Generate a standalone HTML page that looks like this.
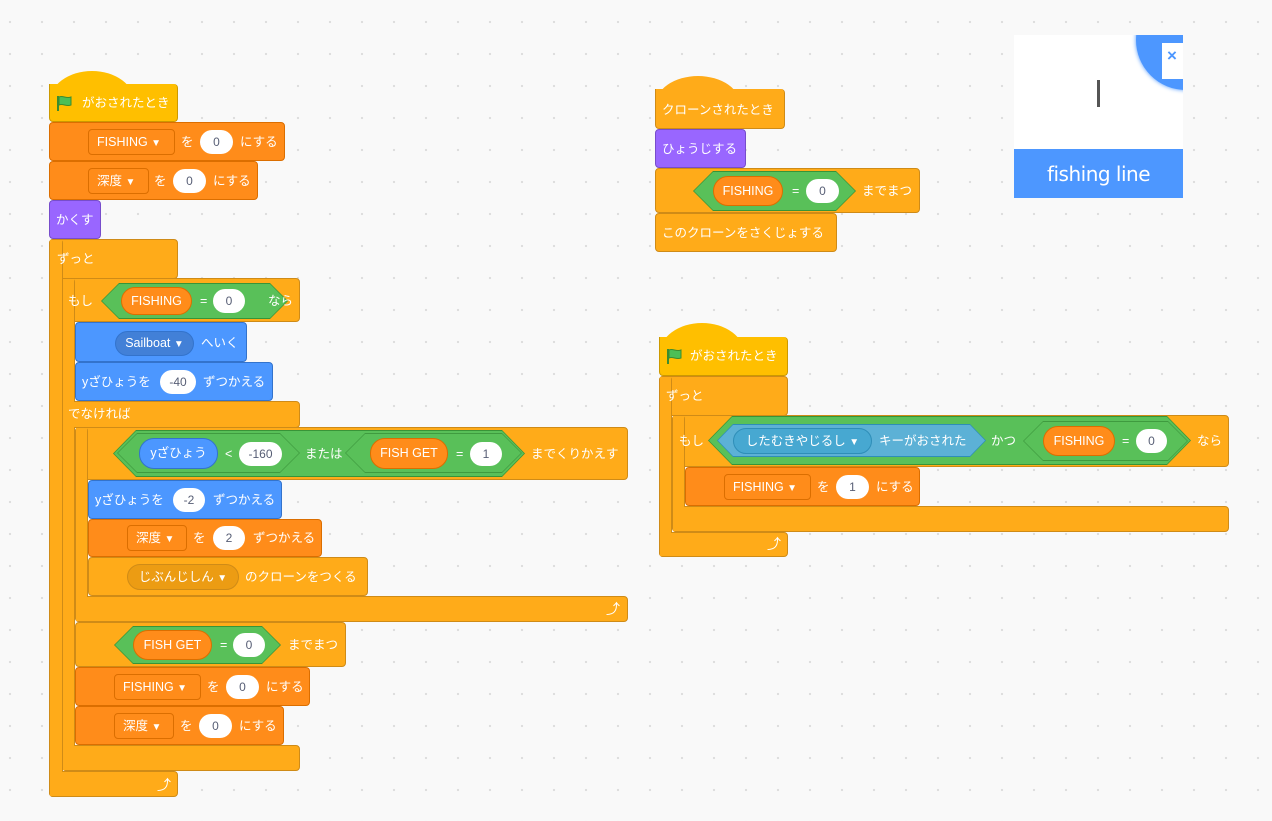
<!DOCTYPE html>
<html><head><meta charset="utf-8">
<style>
*{box-sizing:border-box;margin:0;padding:0}
body{width:1272px;height:821px;overflow:hidden;position:relative;background-color:#f9f9f9;
background-image:radial-gradient(circle,#dcdcdc 1px,transparent 1.3px);background-size:32px 32px;background-position:-6px 6px;
font-family:"Liberation Sans","Noto Sans CJK JP",sans-serif;font-size:12.5px;color:#fff}
div,span{position:absolute}
.b{border-radius:4px;border:1px solid}
.ctl{background:#ffab19;border-color:#cf8b17}
.hat{background:#ffbf00;border-color:#cc9900}
.var{background:#ff8c1a;border-color:#db6e00}
.mot{background:#4c97ff;border-color:#3373cc}
.lk{background:#9966ff;border-color:#774dcb}
.t{line-height:16px;white-space:nowrap}
.dd{border:1px solid #db6e00;border-radius:4px;background:#ff8c1a;height:26px;line-height:24px;padding-left:8px;white-space:nowrap}
.ov{background:#fff;color:#575e75;border-radius:13px;height:24px;line-height:24px;text-align:center;font-size:12px}
.pill{border-radius:15px;line-height:26px;text-align:center;white-space:nowrap;border:1px solid}
.po{background:#ff8c1a;border-color:#db6e00}
.pb{background:#4c97ff;border-color:#3373cc}
.arr{font-size:10px}
.hx{clip-path:polygon(var(--h) 0,calc(100% - var(--h)) 0,100% 50%,calc(100% - var(--h)) 100%,var(--h) 100%,0 50%)}
.dome{border-radius:50% 50% 0 0/100% 100% 0 0}
</style></head><body>

<!-- ===== LEFT SCRIPT ===== -->
<div class="hat dome" style="left:49px;top:71px;width:86px;height:32px;border:none"></div>
<div class="b hat" style="left:49px;top:84px;width:129px;height:38px;border-top:none;border-radius:0 4px 4px 4px"></div>
<svg style="position:absolute;left:56px;top:95px" width="18" height="17"><path d="M2 1v15" stroke="#3d8c2e" stroke-width="2"/><path d="M3 2c4-2 7 2 12 0v8c-5 2-8-2-12 0z" fill="#4cbf56" stroke="#3d8c2e" stroke-width="1"/></svg>
<span class="t" style="left:82px;top:95px">がおされたとき</span>

<div class="b var" style="left:49px;top:122px;width:236px;height:39px"></div>
<div class="dd" style="left:88px;top:129px;width:87px">FISHING <span class="arr" style="position:static">▼</span></div>
<span class="t" style="left:181px;top:134px">を</span>
<div class="ov" style="left:200px;top:130px;width:33px">0</div>
<span class="t" style="left:240px;top:134px">にする</span>

<div class="b var" style="left:49px;top:161px;width:209px;height:39px"></div>
<div class="dd" style="left:88px;top:168px;width:61px">深度 <span class="arr" style="position:static">▼</span></div>
<span class="t" style="left:154px;top:173px">を</span>
<div class="ov" style="left:173px;top:169px;width:33px">0</div>
<span class="t" style="left:213px;top:173px">にする</span>

<div class="b lk" style="left:49px;top:200px;width:52px;height:39px"></div>
<span class="t" style="left:56px;top:212px">かくす</span>

<!-- forever -->
<div class="b ctl" style="left:49px;top:239px;width:129px;height:40px"></div>
<div class="b ctl" style="left:49px;top:239px;width:14px;height:558px"></div>
<div class="b ctl" style="left:49px;top:771px;width:129px;height:26px"></div>
<div style="left:50px;top:240px;width:12px;height:556px;background:#ffab19"></div>
<span class="t" style="left:57px;top:251px">ずっと</span>
<span class="t" style="left:157px;top:777px;font-size:14px">⤴</span>

<!-- if else -->
<div class="b ctl" style="left:62px;top:278px;width:238px;height:44px"></div>
<div class="b ctl" style="left:62px;top:278px;width:13px;height:493px"></div>
<div class="b ctl" style="left:62px;top:401px;width:238px;height:27px"></div>
<div class="b ctl" style="left:62px;top:745px;width:238px;height:26px"></div>
<div style="left:63px;top:279px;width:11px;height:491px;background:#ffab19"></div>
<span class="t" style="left:68px;top:293px">もし</span>
<div class="hx" style="--h:18px;left:101px;top:283px;width:187px;height:36px;background:#389438"></div>
<div class="hx" style="--h:17px;left:102px;top:284px;width:185px;height:34px;background:#59c059"></div>
<div class="pill po" style="left:121px;top:287px;width:71px;height:28px">FISHING</div>
<span class="t" style="left:200px;top:293px">=</span>
<div class="ov" style="left:213px;top:289px;width:32px">0</div>
<span class="t" style="left:268px;top:293px">なら</span>
<span class="t" style="left:68px;top:406px">でなければ</span>

<div class="b mot" style="left:75px;top:322px;width:172px;height:40px"></div>
<div class="pill" style="left:115px;top:331px;width:79px;height:25px;line-height:23px;background:#4280d7;border-color:#3373cc">Sailboat <span class="arr" style="position:static">▼</span></div>
<span class="t" style="left:201px;top:335px">へいく</span>

<div class="b mot" style="left:75px;top:362px;width:198px;height:39px"></div>
<span class="t" style="left:82px;top:374px">yざひょうを</span>
<div class="ov" style="left:160px;top:370px;width:36px">-40</div>
<span class="t" style="left:203px;top:374px">ずつかえる</span>

<!-- repeat until -->
<div class="b ctl" style="left:75px;top:427px;width:553px;height:53px"></div>
<div class="b ctl" style="left:75px;top:427px;width:13px;height:195px"></div>
<div class="b ctl" style="left:75px;top:596px;width:553px;height:26px"></div>
<div style="left:76px;top:428px;width:11px;height:193px;background:#ffab19"></div>
<span class="t" style="left:606px;top:601px;font-size:14px">⤴</span>
<div class="hx" style="--h:23px;left:113px;top:430px;width:412px;height:47px;background:#389438"></div>
<div class="hx" style="--h:22px;left:114px;top:431px;width:410px;height:45px;background:#59c059"></div>
<div class="hx" style="--h:20px;left:117px;top:433px;width:183px;height:40px;background:#3f9b3f"></div>
<div class="hx" style="--h:19px;left:118px;top:434px;width:181px;height:38px;background:#59c059"></div>
<div class="hx" style="--h:20px;left:345px;top:433px;width:177px;height:40px;background:#3f9b3f"></div>
<div class="hx" style="--h:19px;left:346px;top:434px;width:175px;height:38px;background:#59c059"></div>
<div class="pill pb" style="left:139px;top:438px;width:79px;height:31px;line-height:29px">yざひょう</div>
<span class="t" style="left:225px;top:446px">&lt;</span>
<div class="ov" style="left:239px;top:442px;width:43px">-160</div>
<span class="t" style="left:305px;top:446px">または</span>
<div class="pill po" style="left:370px;top:438px;width:78px;height:31px;line-height:29px">FISH GET</div>
<span class="t" style="left:456px;top:446px">=</span>
<div class="ov" style="left:470px;top:442px;width:32px">1</div>
<span class="t" style="left:531px;top:446px">までくりかえす</span>

<div class="b mot" style="left:88px;top:480px;width:194px;height:39px"></div>
<span class="t" style="left:95px;top:492px">yざひょうを</span>
<div class="ov" style="left:173px;top:488px;width:32px">-2</div>
<span class="t" style="left:213px;top:492px">ずつかえる</span>

<div class="b var" style="left:88px;top:519px;width:234px;height:38px"></div>
<div class="dd" style="left:127px;top:525px;width:60px">深度 <span class="arr" style="position:static">▼</span></div>
<span class="t" style="left:193px;top:530px">を</span>
<div class="ov" style="left:213px;top:526px;width:32px">2</div>
<span class="t" style="left:253px;top:530px">ずつかえる</span>

<div class="b ctl" style="left:88px;top:557px;width:280px;height:39px"></div>
<div class="pill" style="left:127px;top:564px;width:112px;height:26px;line-height:24px;background:#ec9c13;border-color:#cf8b17">じぶんじしん <span class="arr" style="position:static">▼</span></div>
<span class="t" style="left:245px;top:569px">のクローンをつくる</span>

<div class="b ctl" style="left:75px;top:622px;width:271px;height:45px"></div>
<div class="hx" style="--h:19px;left:114px;top:626px;width:167px;height:38px;background:#389438"></div>
<div class="hx" style="--h:18px;left:115px;top:627px;width:165px;height:36px;background:#59c059"></div>
<div class="pill po" style="left:133px;top:630px;width:79px;height:30px;line-height:28px">FISH GET</div>
<span class="t" style="left:220px;top:637px">=</span>
<div class="ov" style="left:233px;top:633px;width:32px">0</div>
<span class="t" style="left:288px;top:637px">までまつ</span>

<div class="b var" style="left:75px;top:667px;width:235px;height:39px"></div>
<div class="dd" style="left:114px;top:674px;width:87px">FISHING <span class="arr" style="position:static">▼</span></div>
<span class="t" style="left:207px;top:679px">を</span>
<div class="ov" style="left:226px;top:675px;width:33px">0</div>
<span class="t" style="left:266px;top:679px">にする</span>

<div class="b var" style="left:75px;top:706px;width:209px;height:39px"></div>
<div class="dd" style="left:114px;top:713px;width:60px">深度 <span class="arr" style="position:static">▼</span></div>
<span class="t" style="left:180px;top:718px">を</span>
<div class="ov" style="left:199px;top:714px;width:33px">0</div>
<span class="t" style="left:239px;top:718px">にする</span>

<!-- ===== RIGHT SCRIPT 1 ===== -->
<div class="ctl dome" style="left:655px;top:76px;width:86px;height:30px"></div>
<div class="b ctl" style="left:655px;top:89px;width:130px;height:40px;border-top:none;border-radius:0 4px 4px 4px"></div>
<span class="t" style="left:662px;top:102px">クローンされたとき</span>
<div class="b lk" style="left:655px;top:129px;width:91px;height:39px"></div>
<span class="t" style="left:662px;top:141px">ひょうじする</span>
<div class="b ctl" style="left:655px;top:168px;width:265px;height:45px"></div>
<div class="hx" style="--h:20px;left:693px;top:171px;width:163px;height:40px;background:#389438"></div>
<div class="hx" style="--h:19px;left:694px;top:172px;width:161px;height:38px;background:#59c059"></div>
<div class="pill po" style="left:713px;top:176px;width:70px;height:30px;line-height:28px">FISHING</div>
<span class="t" style="left:792px;top:183px">=</span>
<div class="ov" style="left:806px;top:179px;width:33px">0</div>
<span class="t" style="left:862px;top:183px">までまつ</span>
<div class="b ctl" style="left:655px;top:213px;width:182px;height:39px"></div>
<span class="t" style="left:662px;top:225px">このクローンをさくじょする</span>

<!-- ===== RIGHT SCRIPT 2 ===== -->
<div class="hat dome" style="left:659px;top:323px;width:86px;height:32px;border:none"></div>
<div class="b hat" style="left:659px;top:337px;width:129px;height:39px;border-top:none;border-radius:0 4px 4px 4px"></div>
<svg style="position:absolute;left:666px;top:348px" width="18" height="17"><path d="M2 1v15" stroke="#3d8c2e" stroke-width="2"/><path d="M3 2c4-2 7 2 12 0v8c-5 2-8-2-12 0z" fill="#4cbf56" stroke="#3d8c2e" stroke-width="1"/></svg>
<span class="t" style="left:690px;top:348px">がおされたとき</span>

<div class="b ctl" style="left:659px;top:376px;width:129px;height:40px"></div>
<div class="b ctl" style="left:659px;top:376px;width:13px;height:181px"></div>
<div class="b ctl" style="left:659px;top:532px;width:129px;height:25px"></div>
<div style="left:660px;top:377px;width:11px;height:179px;background:#ffab19"></div>
<span class="t" style="left:666px;top:388px">ずっと</span>
<span class="t" style="left:767px;top:536px;font-size:14px">⤴</span>

<div class="b ctl" style="left:672px;top:415px;width:557px;height:52px"></div>
<div class="b ctl" style="left:672px;top:415px;width:13px;height:117px"></div>
<div class="b ctl" style="left:672px;top:506px;width:557px;height:26px"></div>
<div style="left:673px;top:416px;width:11px;height:115px;background:#ffab19"></div>
<span class="t" style="left:679px;top:433px">もし</span>
<div class="hx" style="--h:24px;left:708px;top:416px;width:483px;height:49px;background:#389438"></div>
<div class="hx" style="--h:23px;left:709px;top:417px;width:481px;height:47px;background:#59c059"></div>
<div class="hx" style="--h:16px;left:717px;top:424px;width:269px;height:33px;background:#2e8eb8"></div>
<div class="hx" style="--h:15px;left:718px;top:425px;width:267px;height:31px;background:#5cb1d6"></div>
<div class="pill" style="left:733px;top:428px;width:139px;height:26px;line-height:24px;background:#47a8d1;border-color:#2e8eb8">したむきやじるし <span class="arr" style="position:static">▼</span></div>
<span class="t" style="left:879px;top:433px">キーがおされた</span>
<span class="t" style="left:991px;top:433px">かつ</span>
<div class="hx" style="--h:20px;left:1023px;top:421px;width:165px;height:40px;background:#3f9b3f"></div>
<div class="hx" style="--h:19px;left:1024px;top:422px;width:163px;height:38px;background:#59c059"></div>
<div class="pill po" style="left:1043px;top:426px;width:72px;height:30px;line-height:28px">FISHING</div>
<span class="t" style="left:1122px;top:433px">=</span>
<div class="ov" style="left:1136px;top:429px;width:31px">0</div>
<span class="t" style="left:1197px;top:433px">なら</span>

<div class="b var" style="left:685px;top:467px;width:235px;height:39px"></div>
<div class="dd" style="left:724px;top:474px;width:87px">FISHING <span class="arr" style="position:static">▼</span></div>
<span class="t" style="left:817px;top:479px">を</span>
<div class="ov" style="left:836px;top:475px;width:33px">1</div>
<span class="t" style="left:876px;top:479px">にする</span>

<!-- ===== SPRITE PREVIEW ===== -->
<div style="left:1014px;top:35px;width:169px;height:163px;background:#fff;overflow:hidden">
  <div style="left:122px;top:-45px;width:100px;height:100px;border-radius:50%;background:#4d97ff;box-shadow:0 0 4px #4d97ff"></div>
  <div style="left:148px;top:8px;width:21px;height:36px;background:#fff"></div>
  <span style="left:153px;top:11px;color:#4d97ff;font-size:17px;font-weight:bold;line-height:20px">×</span>
  <div style="left:83px;top:45px;width:3px;height:27px;background:#555"></div>
  <div style="left:0;top:114px;width:169px;height:49px;background:#4d97ff"></div>
  <span style="left:0;top:127px;width:169px;text-align:center;font-size:20px;line-height:24px;letter-spacing:-0.5px;font-family:'DejaVu Sans',sans-serif">fishing line</span>
</div>
</body></html>
